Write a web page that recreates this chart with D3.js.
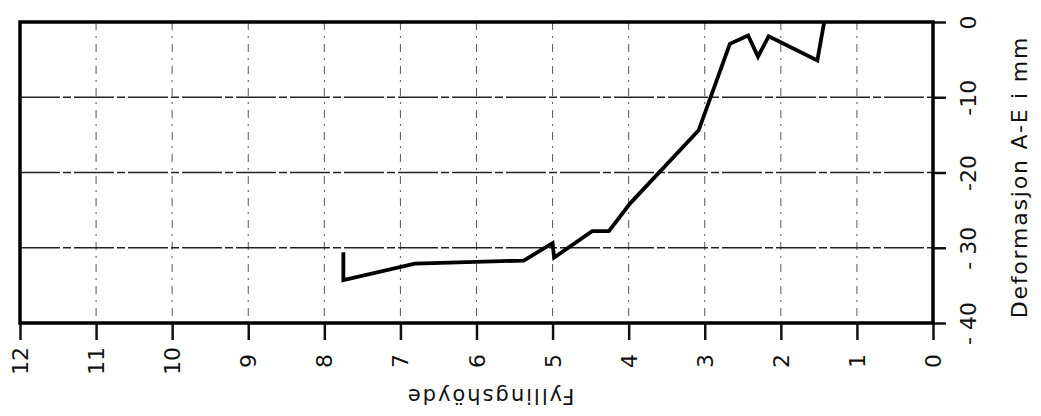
<!DOCTYPE html>
<html>
<head>
<meta charset="utf-8">
<script src="https://cdn.jsdelivr.net/npm/d3@7"></script>
<style>
  body { margin: 0; background: #fff; }
  svg { display: block; }
  text { font-family: "DejaVu Sans", sans-serif; fill: #111; }
</style>
</head>
<body>
<div id="chart"></div>
<script>
// fill height (m) vs deformation A-E (mm)
var fillHeight = [7.75, 7.75, 6.81, 5.38, 5.00, 4.98, 4.48, 4.26, 3.98, 3.08, 2.67, 2.43, 2.30, 2.16, 1.52, 1.43];
var deformation = [-30.6, -34.3, -32.1, -31.7, -29.4, -31.3, -27.8, -27.8, -24.1, -14.4, -2.9, -1.8, -4.6, -1.9, -5.1, 0];

var xTicks = [12, 11, 10, 9, 8, 7, 6, 5, 4, 3, 2, 1, 0];
var yTicks = [0, -10, -20, -30, -40];
var yTickLabels = ["0", "-10", "-20", "- 30", "- 40"];

var xTitle = "Fyllingshöyde";
var yTitle = "Deformasjon  A-E i mm";

var width = 1041,
    height = 416,
    plotLeft = 20, plotRight = 933,
    plotTop = 22, plotBottom = 323;

var svg = d3.select("#chart")
  .append("svg")
  .attr("width", width)
  .attr("height", height);

var xScale = d3.scaleLinear().domain([12, 0]).range([plotLeft, plotRight]),
    yScale = d3.scaleLinear().domain([0, -40]).range([plotTop, plotBottom]);

// grid lines: vertical ones faint dash-dot, horizontal ones nearly solid
svg.append("g")
  .selectAll("line")
  .data(xTicks.filter(d => d > 0 && d < 12))
  .enter().append("line")
  .attr("x1", d => xScale(d)).attr("x2", d => xScale(d))
  .attr("y1", plotTop).attr("y2", plotBottom)
  .attr("stroke", "#555")
  .attr("stroke-width", 1)
  .attr("stroke-dasharray", "8,6,2,6");

svg.append("g")
  .selectAll("line")
  .data(yTicks.filter(d => d < 0 && d > -40))
  .enter().append("line")
  .attr("x1", plotLeft).attr("x2", plotRight)
  .attr("y1", d => yScale(d)).attr("y2", d => yScale(d))
  .attr("stroke", "#222")
  .attr("stroke-width", 1.4)
  .attr("stroke-dasharray", "40,3,8,3");

// bottom axis (labels rotated like the scanned page)
var xAxis = d3.axisBottom(xScale)
  .tickValues(xTicks)
  .tickFormat(d3.format("d"))
  .tickSizeInner(17)
  .tickSizeOuter(0);

var gx = svg.append("g")
  .attr("transform", "translate(0," + plotBottom + ")")
  .call(xAxis);
gx.select(".domain").remove();
gx.selectAll(".tick line").attr("stroke", "#111").attr("stroke-width", 2.5);
gx.selectAll(".tick text")
  .attr("y", 0).attr("dy", null)
  .attr("transform", "translate(0,38) rotate(-90)")
  .attr("text-anchor", "middle")
  .attr("dominant-baseline", "central")
  .style("font-size", "22px");

// right axis
var yAxis = d3.axisRight(yScale)
  .tickValues(yTicks)
  .tickFormat((d, i) => yTickLabels[i])
  .tickSizeInner(13)
  .tickSizeOuter(0);

var gy = svg.append("g")
  .attr("transform", "translate(" + plotRight + ",0)")
  .call(yAxis);
gy.select(".domain").remove();
gy.selectAll(".tick line").attr("stroke", "#111").attr("stroke-width", 2.5);
gy.selectAll(".tick text")
  .attr("x", 0).attr("dy", null)
  .attr("transform", "translate(35,0) rotate(-90)")
  .attr("text-anchor", "middle")
  .attr("dominant-baseline", "central")
  .style("font-size", "22px");

// frame
svg.append("rect")
  .attr("x", plotLeft).attr("y", plotTop)
  .attr("width", plotRight - plotLeft).attr("height", plotBottom - plotTop)
  .attr("fill", "none")
  .attr("stroke", "#000")
  .attr("stroke-width", 3.5);

// data line
var pts = fillHeight.map((h, i) => [h, deformation[i]]);
var line = d3.line()
  .x(d => xScale(d[0]))
  .y(d => yScale(d[1]));

svg.append("path")
  .datum(pts)
  .attr("d", line)
  .attr("fill", "none")
  .attr("stroke", "#000")
  .attr("stroke-width", 3.8)
  .attr("stroke-linejoin", "miter");

// axis titles
svg.append("text")
  .attr("transform", "translate(490,396) rotate(180)")
  .attr("text-anchor", "middle")
  .attr("dominant-baseline", "central")
  .style("font-size", "21px")
  .style("letter-spacing", "2px")
  .text(xTitle);

svg.append("text")
  .attr("transform", "translate(1019,177) rotate(-90)")
  .attr("text-anchor", "middle")
  .attr("dominant-baseline", "central")
  .style("font-size", "22px")
  .style("letter-spacing", "1.8px")
  .text(yTitle);
</script>
</body>
</html>
